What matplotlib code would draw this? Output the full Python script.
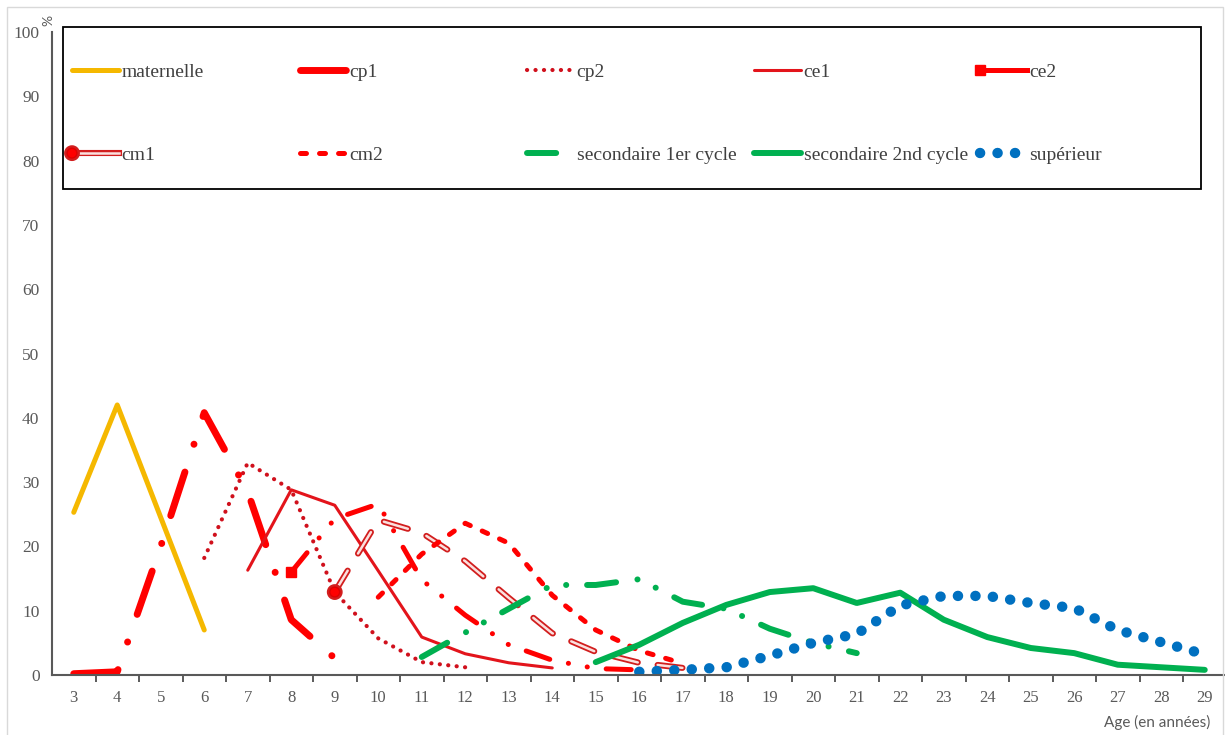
import matplotlib.pyplot as plt
import matplotlib.patheffects as pe
from matplotlib.patches import Rectangle
from matplotlib.legend import Legend
from matplotlib.legend_handler import HandlerLine2D
from matplotlib.ticker import FixedLocator

# taux par âge et par niveau (en %)
age_maternelle = [3, 4, 5, 6]
maternelle = [25.3, 42.0, 24.5, 7.0]
age_cp1 = [3, 4, 5, 6, 7, 8, 9]
cp1 = [0.2, 0.5, 20.0, 40.8, 28.5, 8.6, 2.6]
age_cp2 = [6, 7, 8, 9, 10, 11, 12]
cp2 = [18.2, 33.0, 28.8, 12.9, 5.7, 2.0, 1.2]
age_ce1 = [7, 8, 9, 10, 11, 12, 13, 14]
ce1 = [16.3, 28.8, 26.4, 16.2, 5.9, 3.3, 1.9, 1.1]
age_ce2 = [8, 9, 10, 11, 12, 13, 14, 15, 16]
ce2 = [16.0, 24.3, 26.6, 14.8, 9.3, 4.7, 2.3, 1.0, 0.8]
age_cm1 = [9, 10, 11, 12, 13, 14, 15, 16, 17]
cm1 = [12.9, 24.1, 22.1, 17.7, 12.0, 6.5, 3.6, 1.9, 1.1]
age_cm2 = [10, 11, 12, 13, 14, 15, 16, 17]
cm2 = [12.1, 18.8, 23.6, 20.5, 12.4, 7.0, 3.8, 1.8]
age_sec1 = [11, 12, 13, 14, 15, 16, 17, 18, 19, 20, 21]
sec1 = [2.8, 6.6, 10.3, 14.0, 14.0, 14.9, 11.4, 10.3, 7.2, 5.0, 3.4]
age_sec2 = list(range(15, 30))
sec2 = [2.0, 4.7, 8.1, 10.9, 12.9, 13.5, 11.2, 12.8, 8.6, 5.9, 4.2, 3.4, 1.6, 1.2, 0.8]
age_sup = list(range(16, 30))
sup = [0.5, 0.8, 1.2, 3.0, 5.0, 6.4, 10.8, 12.3, 12.3, 11.2, 10.4, 7.0, 5.1, 3.2]

ages = list(range(3, 30))
yticks = list(range(0, 101, 10))


class LeftMarker(HandlerLine2D):
    # marker at the left end of the legend sample, solid line after it
    def create_artists(self, *args, **kwargs):
        arts = super().create_artists(*args, **kwargs)
        for a in arts:
            a.set_markevery([0])
            a.set_linestyle('-')
        return arts


plt.rcParams['lines.scale_dashes'] = False
plt.rcParams['font.family'] = ['Liberation Serif', 'DejaVu Serif']

fig = plt.figure(figsize=(12.25, 7.35), dpi=100)
ax = fig.add_axes([52 / 1225, 60 / 735, 1174.5 / 1225, 643 / 735])

red = '#FF0000'
green = '#00B050'

lines = []
lines += ax.plot(age_maternelle, maternelle, color='#F5B800', lw=3.6,
                 solid_capstyle='round', label='maternelle')
lines += ax.plot(age_cp1, cp1, color=red, lw=5, linestyle=(0, [33, 21, 0.1, 21]),
                 dash_capstyle='round', label='cp1')
lines += ax.plot(age_cp2, cp2, color='#D0101C', lw=3.0, linestyle=(0, [0.1, 6.0]),
                 dash_capstyle='round', label='cp2')
lines += ax.plot(age_ce1, ce1, color='#E3141B', lw=2.2, solid_capstyle='round',
                 label='ce1')
lines += ax.plot(age_ce2, ce2, color=red, lw=3.6,
                 linestyle=(0, [18, 13.7, 0.1, 13.7, 0.1, 13.7]),
                 dash_capstyle='round', marker='s', ms=7, markevery=[0],
                 label='ce2')
lines += ax.plot(age_cm1, cm1, color='#FBE0DE', lw=1.8, linestyle=(0, [18, 14.4]),
                 dash_capstyle='round', marker='o', ms=7, mfc='#FF0000',
                 mec='#E00000', markevery=[0], label='cm1',
                 path_effects=[pe.Stroke(linewidth=4.4, foreground='#D21E1E'),
                               pe.Normal()])
lines += ax.plot(age_cm2, cm2, color=red, lw=3.6, linestyle=(0, [4.3, 9.4]),
                 dash_capstyle='round', label='cm2')
lines += ax.plot(age_sec1, sec1, color=green, lw=4.3,
                 linestyle=(0, [21, 15.5, 0.1, 14.5, 0.1, 15]),
                 dash_capstyle='round', label='secondaire 1er cycle')
lines += ax.plot(age_sec2, sec2, color=green, lw=4.3, solid_capstyle='round',
                 solid_joinstyle='round', label='secondaire 2nd cycle')
lines += ax.plot(age_sup, sup, color='#0070C0', lw=7.5, linestyle=(0, [0.1, 12.5]),
                 dash_capstyle='round', label='supérieur')

ax.set_xlim(2.5, 29.5)
ax.set_ylim(0, 100)
ax.xaxis.set_major_locator(FixedLocator(ages))
ax.xaxis.set_minor_locator(FixedLocator([a + 0.5 for a in ages[:-1]]))
ax.set_yticks(yticks)
ax.tick_params(axis='x', which='major', length=0, pad=11,
               labelsize=12, labelcolor='#595959')
ax.tick_params(axis='x', which='minor', length=5, width=1.2,
               color='#404040', direction='out')
ax.tick_params(axis='y', length=0, pad=9, labelsize=12.5, labelcolor='#595959')

for s in ['top', 'right']:
    ax.spines[s].set_visible(False)
for s in ['left', 'bottom']:
    ax.spines[s].set_color('#595959')
    ax.spines[s].set_linewidth(1.5)

# legend: box + 5 columns placed at fixed positions (2 rows)
def ax_x(px):
    return (px - 52) / 1174.5

def ax_y(py):
    return (675 - py) / 643

ax.add_patch(Rectangle((ax_x(63), ax_y(189)), ax_x(1201) - ax_x(63),
                       ax_y(27) - ax_y(189), transform=ax.transAxes,
                       facecolor='white', edgecolor='black', lw=1.3,
                       clip_on=False, zorder=4.5))
col_x = [72, 300, 527, 754, 980]
markers = {lines[4]: LeftMarker(), lines[5]: LeftMarker()}
for i, x in enumerate(col_x):
    hs = [lines[i], lines[i + 5]]
    lg = Legend(ax, hs, [h.get_label() for h in hs], loc='upper left',
                bbox_to_anchor=(ax_x(x), ax_y(63)), frameon=False,
                borderpad=0, borderaxespad=0, fontsize=14, handlelength=2.4,
                handletextpad=0.15, labelspacing=3.38, handler_map=markers)
    for t in lg.get_texts():
        t.set_color('#404040')
    ax.add_artist(lg)

fig.text(1210 / 1225, 1 - 722 / 735, 'Age (en années)', ha='right',
         va='center', fontsize=11, color='#595959', family=['Lato', 'DejaVu Sans'])
fig.text(48 / 1225, 1 - 20 / 735, '%', rotation=90, ha='center', va='center',
         fontsize=10, color='#595959', family=['Lato', 'DejaVu Sans'])

fig.patches.append(Rectangle((7 / 1225, -0.01), 1216 / 1225, 1.0 - 7 / 735 + 0.01,
                             transform=fig.transFigure, fill=False,
                             edgecolor='#D9D9D9', lw=1))

fig.savefig('out.png', dpi=100)
